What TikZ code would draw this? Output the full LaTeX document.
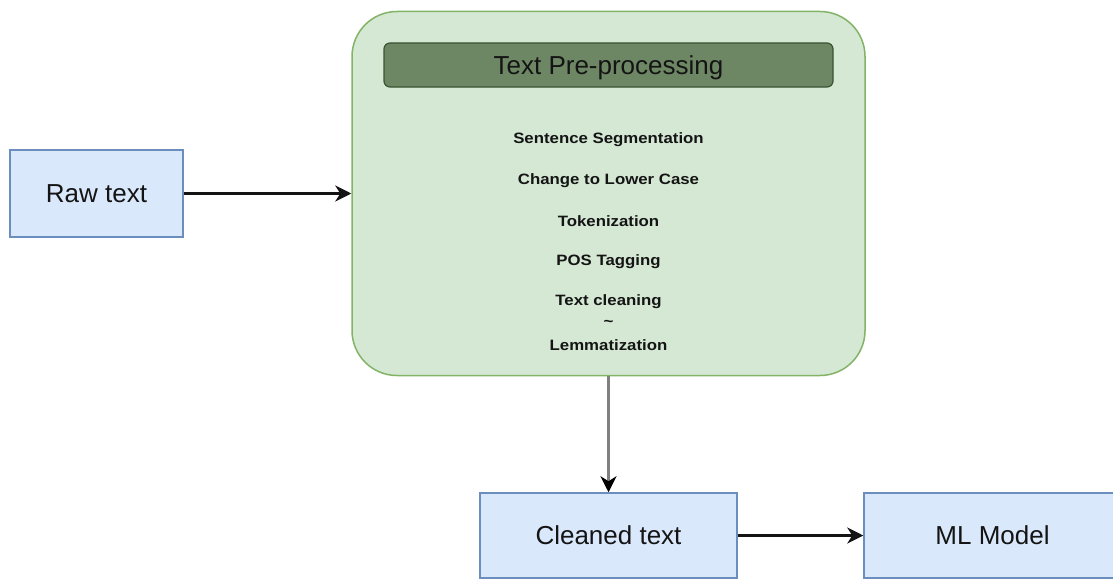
\documentclass[tikz,border=0pt]{standalone}
\usepackage{fontspec}
\setmainfont{Liberation Sans}
\newfontfamily\itemfont{Liberation Sans Bold}[FakeStretch=1.12]
\usetikzlibrary{arrows.meta}
\definecolor{bluefill}{HTML}{DAE8FC}
\definecolor{bluedraw}{HTML}{6C8EBF}
\definecolor{greenfill}{HTML}{D5E8D4}
\definecolor{greendraw}{HTML}{82B366}
\definecolor{headfill}{HTML}{6D8764}
\definecolor{headdraw}{HTML}{3A5431}
\definecolor{txt}{HTML}{141414}
\definecolor{greyline}{HTML}{808080}
\tikzset{
  bluebox/.style={draw=bluedraw, fill=bluefill, line width=1.5pt, minimum width=257pt, minimum height=85pt, inner sep=0pt, text=txt, font=\fontsize{26}{30}\selectfont},
  procbox/.style={draw=greendraw, fill=greenfill, line width=1.5pt, rounded corners=45pt, minimum width=513pt, minimum height=364pt, inner sep=0pt},
  headbox/.style={draw=headdraw, fill=headfill, line width=1.2pt, rounded corners=6pt, minimum width=449pt, minimum height=44pt, inner sep=0pt, text depth=0pt, text=txt, font=\fontsize{26}{30}\selectfont},
  itemtext/.style={text=txt, inner sep=0pt, font=\itemfont\fontsize{15}{17}\selectfont},
  conn/.style={line width=2.2pt, draw=txt, -{Stealth[length=16pt, width=16pt, inset=5pt, color=txt]}},
  greyconn/.style={line width=2.8pt, draw=greyline, -{Stealth[length=16pt, width=16pt, inset=5pt, color=black]}}
}
\begin{document}
\begin{tikzpicture}[x=1pt, y=-1pt]
\useasboundingbox (0,0) rectangle (1113,578);
\fill[white] (0,0) rectangle (1113,578);
\node[bluebox, minimum width=173pt, minimum height=87pt] (raw) at (96.5,193.5) {Raw text};
\node[procbox] (proc) at (608.5,193.5) {};
\node[headbox] (head) at (608.5,65) {Text Pre-processing};
\node[itemtext] (t1) at (608.5,140) {Sentence Segmentation};
\node[itemtext] (t2) at (608.5,181) {Change to Lower Case};
\node[itemtext] (t3) at (608.5,221) {Tokenization};
\node[itemtext] (t4) at (608.5,262) {POS Tagging};
\node[itemtext] (t5) at (608.5,302) {Text cleaning};
\node[itemtext] (t6) at (608.5,323) {\char"007E};
\node[itemtext] (t7) at (608.5,345) {Lemmatization};
\node[bluebox] (clean) at (608.5,535.5) {Cleaned text};
\node[bluebox] (ml) at (992.5,535.5) {ML Model};
\draw[conn] (raw) -- (proc);
\draw[greyconn] (proc.south) -- (clean.north);
\draw[conn] (clean) -- (ml);
\end{tikzpicture}
\end{document}
